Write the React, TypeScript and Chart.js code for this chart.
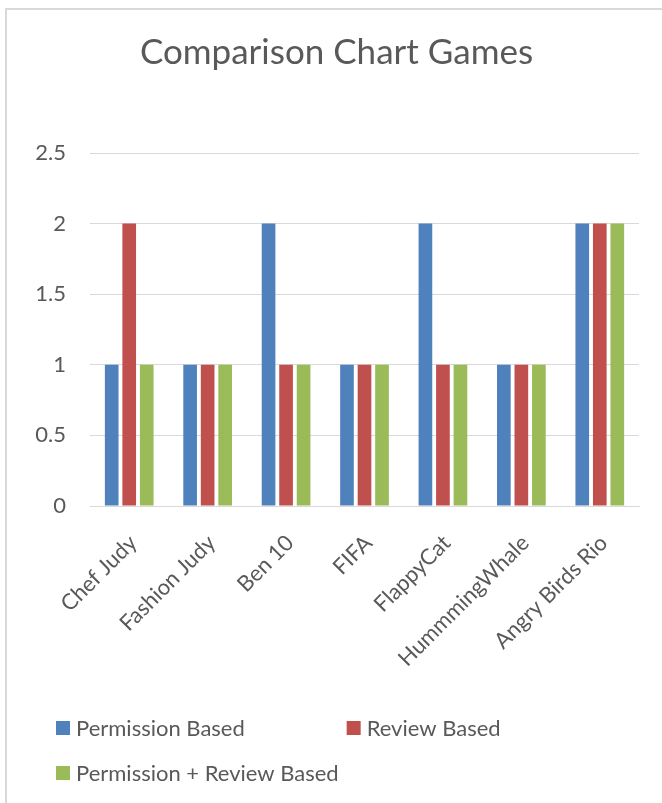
import React, { useEffect, useRef } from 'react';
import { Chart, registerables } from 'chart.js';

Chart.register(...registerables);

const categories = ['Chef Judy', 'Fashion Judy', 'Ben 10', 'FIFA', 'FlappyCat', 'HummmingWhale', 'Angry Birds Rio'];
const permissionBased = [1, 1, 2, 1, 2, 1, 2];
const reviewBased = [2, 1, 1, 1, 1, 1, 2];
const permissionReviewBased = [1, 1, 1, 1, 1, 1, 2];
const seriesNames = ['Permission Based', 'Review Based', 'Permission + Review Based'];
const seriesColors = ['#4F81BD', '#C0504D', '#9BBB59'];
const yTickLabels = ['0', '0.5', '1', '1.5', '2', '2.5'];
const titleText = 'Comparison Chart Games';

const FONT = 'Lato, "Open Sans", sans-serif';
const TEXT = '#595959';
const GRID = '#D9D9D9';

const gridLegend = {
  id: 'gridLegend',
  afterDraw(chart: any) {
    const ctx = chart.ctx;
    const ds = chart.data.datasets;
    ctx.save();
    ctx.font = `22px ${FONT}`;
    ctx.textBaseline = 'middle';
    ctx.textAlign = 'left';
    const box = 14;
    const gap = 6;
    const x0 = 56;
    const y0 = 728;
    const rowH = 45;
    const cols = 2;
    const colW = [0, 0];
    ds.forEach((d: any, i: number) => {
      const c = i % cols;
      colW[c] = Math.max(colW[c], box + gap + ctx.measureText(d.label).width);
    });
    ds.forEach((d: any, i: number) => {
      const c = i % cols;
      const r = Math.floor(i / cols);
      const x = x0 + (c === 0 ? 0 : colW[0] + 8);
      const y = y0 + r * rowH;
      ctx.fillStyle = d.backgroundColor;
      ctx.fillRect(x, y - box / 2, box, box);
      ctx.fillStyle = TEXT;
      ctx.fillText(d.label, x + box + gap, y + 1);
    });
    ctx.restore();
  },
};

export default function App() {
  const ref = useRef<HTMLCanvasElement | null>(null);
  useEffect(() => {
    if (!ref.current) return;
    const seriesValues = [permissionBased, reviewBased, permissionReviewBased];
    const chart = new Chart(ref.current, {
      type: 'bar',
      data: {
        labels: categories,
        datasets: seriesValues.map((vals, i) => ({
          label: seriesNames[i],
          data: vals,
          backgroundColor: seriesColors[i],
          borderWidth: 0,
          categoryPercentage: 0.67,
          barPercentage: 0.78,
        })),
      },
      options: {
        responsive: false,
        animation: false,
        devicePixelRatio: 1,
        layout: { padding: { left: 34, right: 23, top: 0, bottom: 100 } },
        plugins: {
          legend: { display: false },
          tooltip: { enabled: false },
          title: {
            display: true,
            text: titleText,
            color: TEXT,
            font: { family: FONT, size: 35, weight: 'normal' },
            padding: { top: 32, bottom: 79 },
          },
        },
        scales: {
          x: {
            grid: { display: false, drawTicks: false },
            border: { display: true, color: GRID, width: 1 },
            ticks: {
              color: TEXT,
              font: { family: FONT, size: 22 },
              minRotation: 45,
              maxRotation: 45,
              padding: 24,
              labelOffset: 4,
              autoSkip: false,
            },
            afterFit: (s: any) => {
              s.height = 197;
            },
          },
          y: {
            min: 0,
            max: 2.5,
            ticks: {
              stepSize: 0.5,
              color: TEXT,
              font: { family: FONT, size: 22 },
              padding: 24,
              callback: (_v: any, i: number) => yTickLabels[i],
            },
            grid: { color: GRID, drawTicks: false, lineWidth: 1 },
            border: { display: false },
            afterFit: (s: any) => {
              s.width = 56;
            },
          },
        },
      },
      plugins: [gridLegend],
    });
    return () => chart.destroy();
  }, []);

  return (
    <div
      style={{
        position: 'fixed',
        left: 0,
        top: 0,
        width: 662,
        height: 803,
        overflow: 'hidden',
        background: '#fff',
      }}
    >
      <div
        style={{
          position: 'absolute',
          left: 5,
          top: 8,
          width: 700,
          height: 840,
          borderLeft: '2px solid #D9D9D9',
          borderTop: '2px solid #D9D9D9',
        }}
      />
      <canvas
        ref={ref}
        width={662}
        height={803}
        style={{ position: 'absolute', left: 0, top: 0, width: 662, height: 803, display: 'block' }}
      />
    </div>
  );
}
